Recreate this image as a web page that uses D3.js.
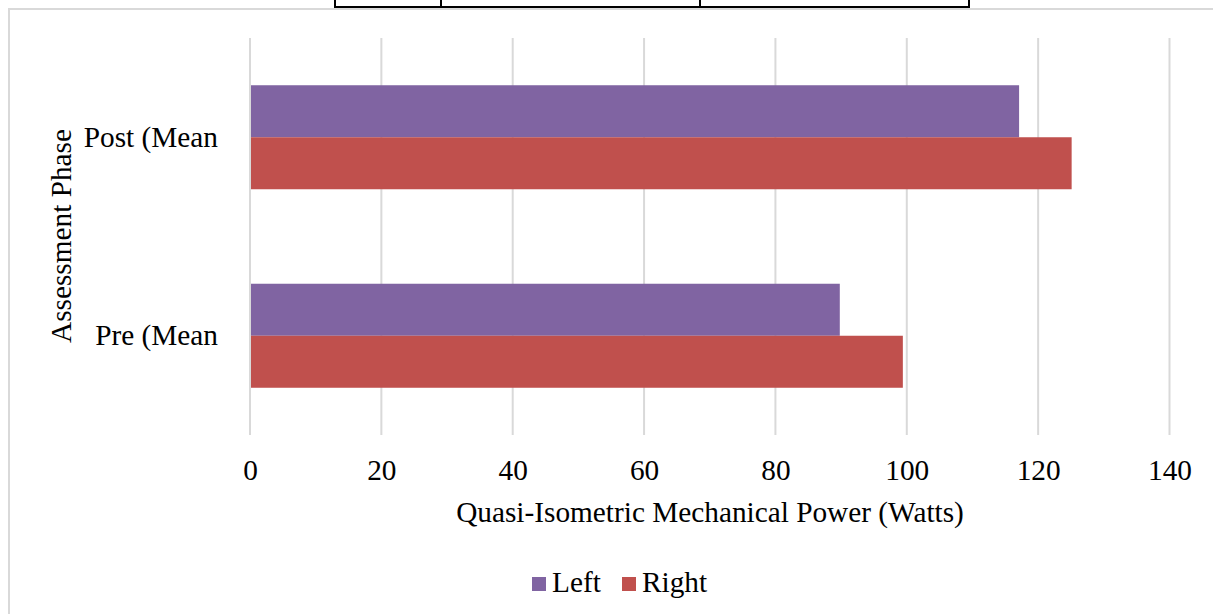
<!DOCTYPE html>
<html>
<head>
<meta charset="utf-8">
<script src="https://cdn.jsdelivr.net/npm/d3@7/dist/d3.min.js"></script>
<style>
  html, body { margin: 0; padding: 0; background: #fff; }
  svg { display: block; }
  text { font-family: "Liberation Serif", "Times New Roman", serif; fill: #000; }
</style>
</head>
<body>
<svg id="chart" width="1213" height="614"></svg>
<script>
// Assessment phases, listed top to bottom
const phases = ["Post (Mean", "Pre (Mean"];
// Series
const seriesNames = ["Left", "Right"];
const leftValues = [117.1, 89.8];
const rightValues = [125.1, 99.4];
const seriesColors = ["#8064A2", "#C0504D"];
// X axis ticks
const xTicks = [0, 20, 40, 60, 80, 100, 120, 140];

const svg = d3.select("#chart");
const W = 1213, H = 614;
const FONT = "29.3px";

// Bottom edge of a table sitting above the chart
const tbl = svg.append("g").attr("stroke", "#000").attr("stroke-width", 2);
tbl.append("line").attr("x1", 334).attr("x2", 970).attr("y1", 7).attr("y2", 7);
[335, 441, 700, 969].forEach(x => {
  tbl.append("line").attr("x1", x).attr("x2", x).attr("y1", 0).attr("y2", 7);
});

// Chart frame
svg.append("rect")
  .attr("x", 9).attr("y", 9).attr("width", W + 20).attr("height", H + 20)
  .attr("fill", "#fff").attr("stroke", "#d9d9d9").attr("stroke-width", 2);

const plot = { left: 250, right: 1169.5, top: 38, bottom: 435 };

const x = d3.scaleLinear().domain([0, 140]).range([plot.left, plot.right]);
const y = d3.scaleBand().domain(phases).range([plot.top, plot.bottom]).paddingInner(0.476).paddingOuter(0.238);
const ySub = d3.scaleBand().domain(seriesNames).range([0, y.bandwidth()]);

// Vertical gridlines
svg.append("g")
  .selectAll("line").data(xTicks).join("line")
  .attr("x1", d => x(d)).attr("x2", d => x(d))
  .attr("y1", plot.top).attr("y2", plot.bottom)
  .attr("stroke", "#d9d9d9").attr("stroke-width", 2);

// Bars
const rows = phases.map((p, i) => ({ phase: p, values: [leftValues[i], rightValues[i]] }));
const groups = svg.append("g").selectAll("g").data(rows).join("g")
  .attr("transform", d => `translate(0,${y(d.phase)})`);
groups.selectAll("rect")
  .data(d => d.values.map((v, j) => ({ series: seriesNames[j], value: v, color: seriesColors[j] })))
  .join("rect")
  .attr("x", x(0) + 1)
  .attr("y", d => ySub(d.series))
  .attr("width", d => x(d.value) - x(0) - 1)
  .attr("height", ySub.bandwidth())
  .attr("fill", d => d.color);

// X axis tick labels
const xAxis = d3.axisBottom(x).tickValues(xTicks).tickSize(0).tickPadding(0).tickFormat(d3.format("d"));
const gx = svg.append("g").attr("transform", `translate(0,${plot.bottom})`).call(xAxis);
gx.select(".domain").remove();
gx.selectAll("text")
  .attr("dy", null).attr("y", 45)
  .style("font-family", "'Liberation Serif', serif").style("font-size", FONT).attr("fill", "#000");

// Y axis category labels
const yAxis = d3.axisLeft(y).tickSize(0).tickPadding(0);
const gy = svg.append("g").attr("transform", `translate(218,0)`).call(yAxis);
gy.select(".domain").remove();
gy.selectAll("text")
  .attr("x", 0).attr("dy", "0.32em")
  .style("font-family", "'Liberation Serif', serif").style("font-size", FONT).attr("fill", "#000");

// Axis titles
svg.append("text")
  .attr("x", 710).attr("y", 522).attr("text-anchor", "middle")
  .style("font-size", FONT)
  .text("Quasi-Isometric Mechanical Power (Watts)");
svg.append("text")
  .attr("transform", "translate(71,236) rotate(-90)")
  .attr("text-anchor", "middle")
  .style("font-size", FONT)
  .text("Assessment Phase");

// Legend
const legend = svg.append("g");
const legendItems = [
  { name: seriesNames[0], color: seriesColors[0], x: 532 },
  { name: seriesNames[1], color: seriesColors[1], x: 622 }
];
legendItems.forEach(it => {
  legend.append("rect").attr("x", it.x).attr("y", 577).attr("width", 14).attr("height", 14).attr("fill", it.color);
  legend.append("text").attr("x", it.x + 20).attr("y", 592).style("font-size", FONT).text(it.name);
});
</script>
</body>
</html>
